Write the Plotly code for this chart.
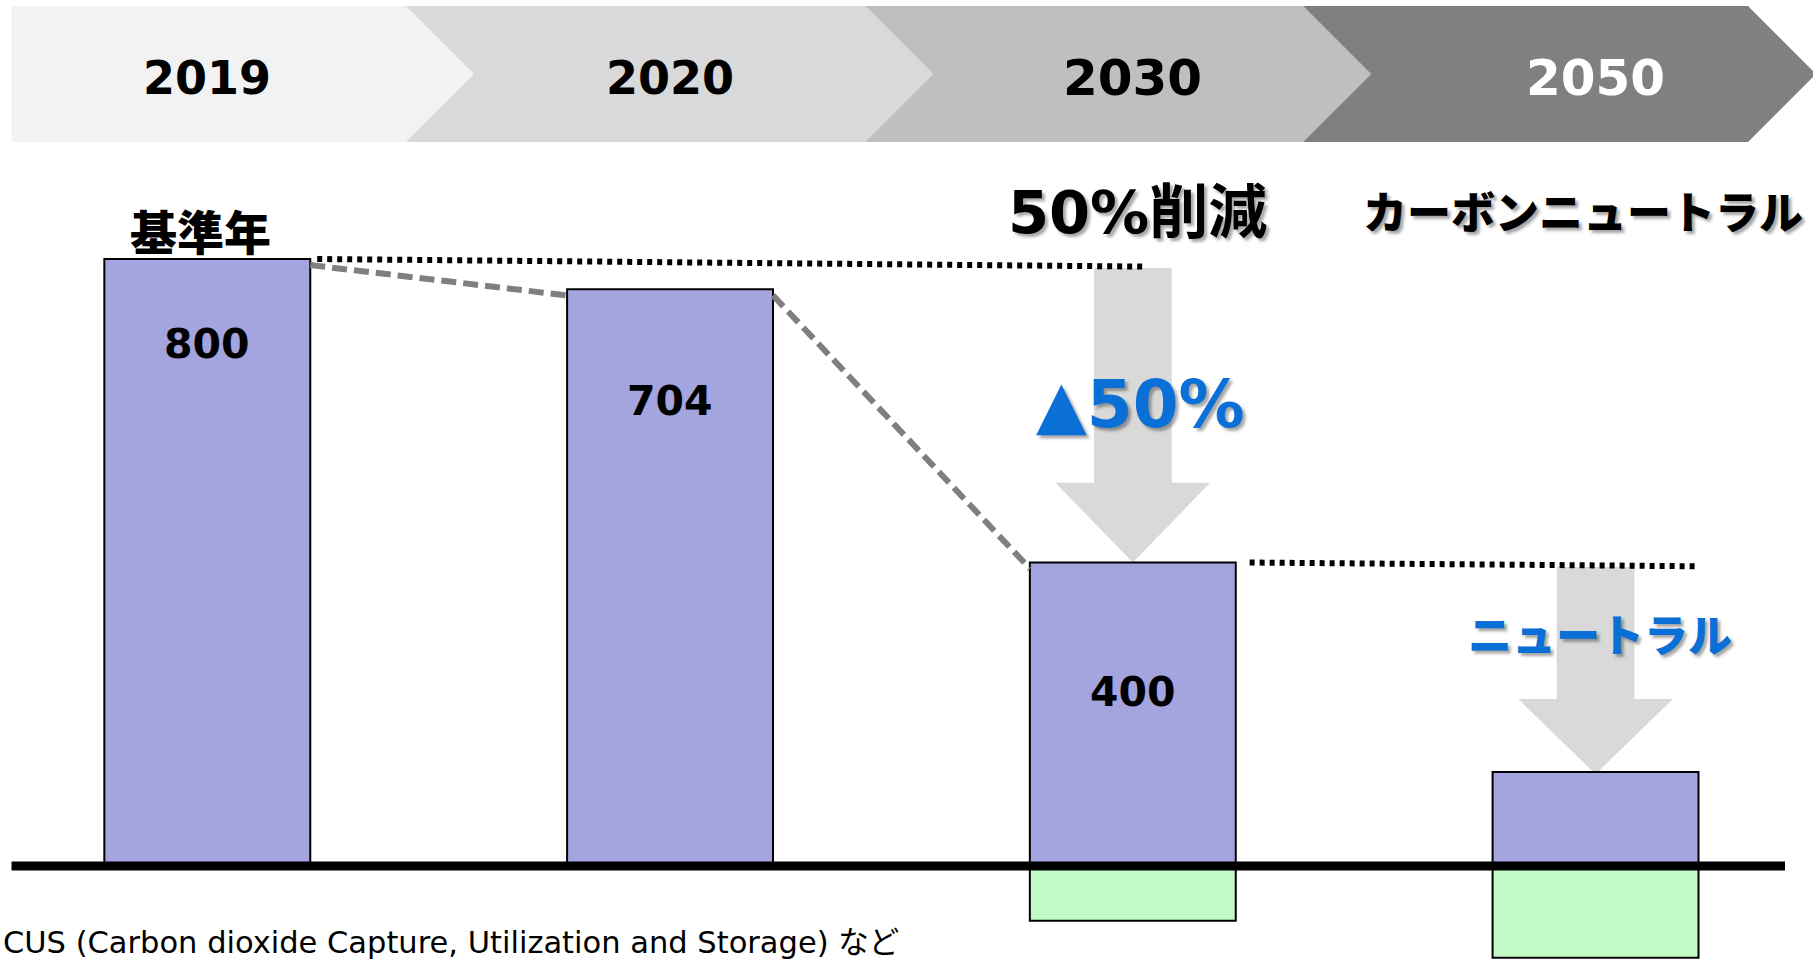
import plotly.graph_objects as go

# ---------------- data ----------------
years = ["2019", "2020", "2030", "2050"]
bar_heights = [800, 760, 400, 124]          # purple bars as drawn (schematic heights)
value_labels = ["800", "704", "400", ""]    # printed values
removals = [None, None, -72, -121]          # green bars below the axis
label_levels = [688, 613, 229]              # vertical placement of the value labels
headline_texts = ["基準年", "50%削減", "カーボンニュートラル"]
arrow_texts = ["▲50%", "ニュートラル"]
footnote = "CUS (Carbon dioxide Capture, Utilization and Storage) など"

# ---------------- layout constants ----------------
W, H = 1813, 961
BAR_W = 0.445
ZERO_PX = 866
PX_PER_UNIT = 0.75875
X0_PX, STEP_PX = 207.3, 462.75
PURPLE = "rgb(164,164,223)"
GREEN = "rgb(194,250,198)"
BLUE = "#0A6FD6"
LATIN = "DejaVu Sans, Verdana, Noto Sans CJK JP"
CJK = "Noto Sans CJK JP, DejaVu Sans"
SHADOW = "3px 3px 3px rgba(0,0,0,0.35)"


def px(x):
    return x / W


def py(y):
    return 1 - y / H


idx = list(range(len(years)))

fig = go.Figure()

fig.add_trace(go.Bar(
    x=idx, y=bar_heights, width=BAR_W,
    marker=dict(color=PURPLE, line=dict(color="black", width=2)),
    hoverinfo="skip", showlegend=False,
))
fig.add_trace(go.Bar(
    x=idx, y=removals, width=BAR_W,
    marker=dict(color=GREEN, line=dict(color="black", width=2)),
    hoverinfo="skip", showlegend=False,
))

shapes = []

# banner chevrons (pixel geometry)
b_top, b_mid, b_bot, depth = 6, 74, 142, 68
starts = [11.6, 406, 865, 1303]
ends = [406, 865, 1303, 1748]
colors = ["#F2F2F2", "#D9D9D9", "#BFBFBF", "#808080"]
for i, (s, e, c) in enumerate(zip(starts, ends, colors)):
    pts = [(s, b_top), (e, b_top), (e + depth, b_mid), (e, b_bot), (s, b_bot)]
    if i > 0:
        pts.append((s + depth, b_mid))
    path = "M " + " L ".join(f"{px(a):.5f},{py(b):.5f}" for a, b in pts) + " Z"
    shapes.append(dict(type="path", xref="paper", yref="paper", path=path,
                       fillcolor=c, line=dict(width=0), layer="below"))

# grey arrows (data coordinates)
def arrow(c, top, base, tip, s=0.084, h=0.167):
    pts = [(c - s, top), (c + s, top), (c + s, base), (c + h, base),
           (c, tip), (c - h, base), (c - s, base)]
    return "M " + " L ".join(f"{a:.4f},{b:.2f}" for a, b in pts) + " Z"


shapes.append(dict(type="path", xref="x", yref="y",
                   path=arrow(2, 788, 505, bar_heights[2]),
                   fillcolor="#D9D9D9", line=dict(width=0), layer="below"))
shapes.append(dict(type="path", xref="x", yref="y",
                   path=arrow(3, 394, 220, bar_heights[3] - 3),
                   fillcolor="#D9D9D9", line=dict(width=0), layer="below"))

# dashed trend line between bar tops
half = BAR_W / 2
for i in range(2):
    shapes.append(dict(type="line", xref="x", yref="y",
                       x0=i + half, y0=bar_heights[i] - 8,
                       x1=i + 1 - half, y1=bar_heights[i + 1] - 8,
                       line=dict(color="#7F7F7F", width=6, dash="15px,7px")))

# dotted reference lines
DOT = dict(color="black", width=6, dash="5px,5px")
shapes.append(dict(type="line", xref="x", yref="y",
                   x0=half + 0.015, y0=bar_heights[0],
                   x1=2.024, y1=bar_heights[0] - 10, line=DOT))
shapes.append(dict(type="line", xref="x", yref="y",
                   x0=2 + half + 0.03, y0=bar_heights[2],
                   x1=3 + half, y1=bar_heights[2] - 5, line=DOT))

# thick baseline
shapes.append(dict(type="line", xref="paper", yref="y",
                   x0=px(11.5), x1=px(1785), y0=0, y1=0,
                   line=dict(color="black", width=9)))

annotations = []

# banner year labels
year_sizes = [46, 46, 50, 50]
year_colors = ["black", "black", "black", "white"]
for i, y in enumerate(years):
    annotations.append(dict(x=i, xref="x", y=py(77.5), yref="paper",
                            text=f"<b>{y}</b>", showarrow=False,
                            font=dict(family=LATIN, size=year_sizes[i], color=year_colors[i]),
                            xanchor="center", yanchor="middle"))

# value labels inside bars
for i, (lab, lv) in enumerate(zip(value_labels, label_levels)):
    annotations.append(dict(x=i, xref="x", y=lv, yref="y",
                            text=f"<b>{lab}</b>", showarrow=False,
                            font=dict(family=LATIN, size=41, color="black"),
                            xanchor="center", yanchor="middle"))

# headlines
annotations.append(dict(x=px(200), y=py(229), xref="paper", yref="paper",
                        text=headline_texts[0], showarrow=False,
                        font=dict(family=CJK, size=47, color="black", weight=900),
                        xanchor="center", yanchor="middle"))
annotations.append(dict(x=px(1137), y=py(212), xref="paper", yref="paper",
                        text=f"<b>{headline_texts[1]}</b>", showarrow=False,
                        font=dict(family=LATIN, size=59, color="black", shadow=SHADOW),
                        xanchor="center", yanchor="middle"))
annotations.append(dict(x=px(1583), y=py(210), xref="paper", yref="paper",
                        text=headline_texts[2], showarrow=False,
                        font=dict(family=CJK, size=44, color="black", shadow=SHADOW, weight=900),
                        xanchor="center", yanchor="middle"))

# blue arrow labels
annotations.append(dict(x=px(1140), y=py(405), xref="paper", yref="paper",
                        text=f"<b>{arrow_texts[0]}</b>", showarrow=False,
                        font=dict(family=LATIN, size=66, color=BLUE, shadow=SHADOW),
                        xanchor="center", yanchor="middle"))
annotations.append(dict(x=px(1600), y=py(633), xref="paper", yref="paper",
                        text=arrow_texts[1], showarrow=False,
                        font=dict(family=CJK, size=44, color=BLUE, shadow=SHADOW, weight=900),
                        xanchor="center", yanchor="middle"))

# footnote
annotations.append(dict(x=px(1), y=py(942), xref="paper", yref="paper",
                        text=footnote, showarrow=False,
                        font=dict(family=LATIN, size=30.5, color="black"),
                        xanchor="left", yanchor="middle"))

fig.update_layout(
    width=W, height=H,
    margin=dict(l=0, r=0, t=0, b=0, pad=0),
    paper_bgcolor="white", plot_bgcolor="white",
    barmode="overlay",
    xaxis=dict(range=[(0 - X0_PX) / STEP_PX, (W - X0_PX) / STEP_PX],
               visible=False, fixedrange=True),
    yaxis=dict(range=[-(H - ZERO_PX) / PX_PER_UNIT, ZERO_PX / PX_PER_UNIT],
               visible=False, fixedrange=True),
    shapes=shapes,
    annotations=annotations,
    showlegend=False,
)

fig.write_html(
    "out.html",
    config={"displayModeBar": False},
    post_script="document.body.style.margin='0';document.body.style.overflow='hidden';",
)
